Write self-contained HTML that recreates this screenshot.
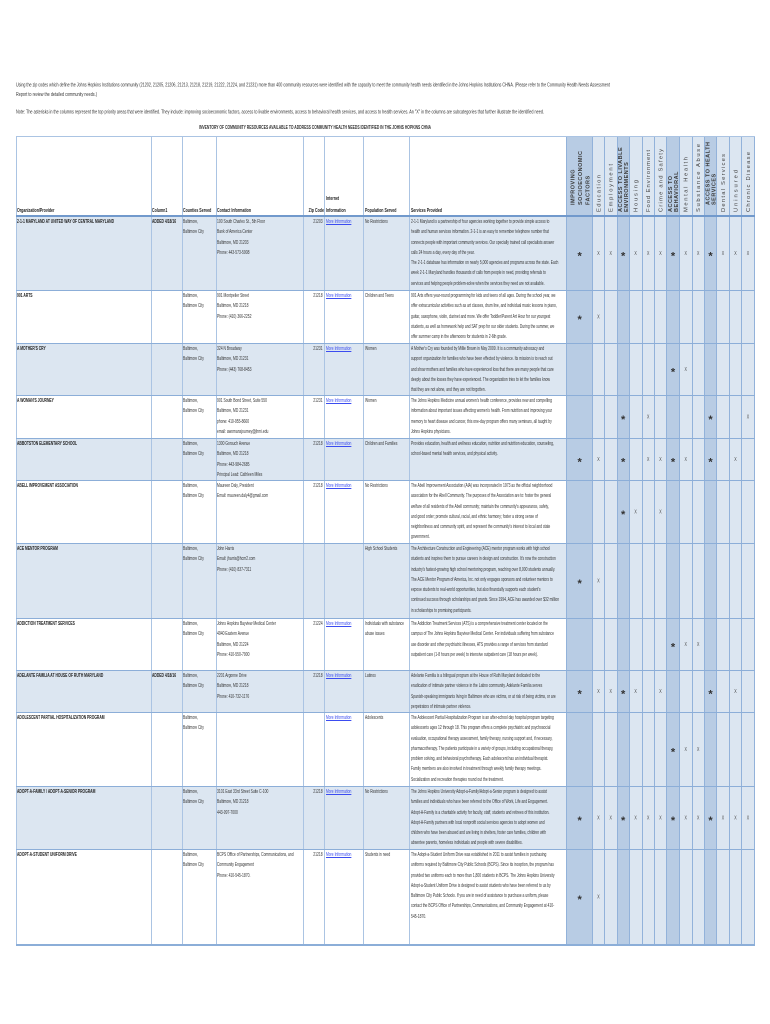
<!DOCTYPE html>
<html><head><meta charset="utf-8">
<style>
body{margin:0;background:#fff}
#p{position:relative;width:770px;height:1024px;overflow:hidden;background:#fff}
.t{position:absolute;white-space:nowrap;font:5.6px/10.3px "Liberation Sans",sans-serif;color:#333;transform:scaleX(.6);transform-origin:0 0}
.b{font-weight:bold;color:#222}
.hb{font-weight:bold;color:#222;transform:scaleX(.64)}
.z{transform-origin:100% 0;text-align:right}
.l{color:#3b4cf0;text-decoration:underline}
.bg{position:absolute}
.v{position:absolute;width:1px;top:136px;height:808px;background:#abc4e3}
.vr{position:absolute;width:1px;top:136px;height:808px;background:#92b2da}
.h{position:absolute;left:15.5px;width:739px;height:1px;background:#8caed8}
svg{position:absolute;left:0;top:0}
.s{font:bold 11px "Liberation Sans",sans-serif;fill:#333;text-anchor:middle}
.x{font:5.5px "Liberation Sans",sans-serif;fill:#444;text-anchor:middle}
.hd{font:5.8px "Liberation Sans",sans-serif;fill:#444}
.hs{font:bold 5.5px "Liberation Sans",sans-serif;fill:#3a3a3a;letter-spacing:.5px}
.in{font:5px "Liberation Sans",sans-serif;fill:#333}
</style></head><body><div id="p">

<!-- row bands -->
<div class="bg" style="left:15.5px;top:216px;width:551px;height:74px;background:#dce6f1"></div>
<div class="bg" style="left:15.5px;top:343px;width:551px;height:52px;background:#dce6f1"></div>
<div class="bg" style="left:15.5px;top:438px;width:551px;height:42px;background:#dce6f1"></div>
<div class="bg" style="left:15.5px;top:543px;width:551px;height:75px;background:#dce6f1"></div>
<div class="bg" style="left:15.5px;top:670px;width:551px;height:42px;background:#dce6f1"></div>
<div class="bg" style="left:15.5px;top:786px;width:551px;height:63px;background:#dce6f1"></div>

<!-- right columns backgrounds -->
<div class="bg" style="left:566.5px;top:136px;width:26px;height:808px;background:#b8cce4"></div>
<div class="bg" style="left:592.5px;top:136px;width:24.5px;height:808px;background:#dce6f1"></div>
<div class="bg" style="left:617px;top:136px;width:12.5px;height:808px;background:#b8cce4"></div>
<div class="bg" style="left:629.5px;top:136px;width:37px;height:808px;background:#dce6f1"></div>
<div class="bg" style="left:666.5px;top:136px;width:12.8px;height:808px;background:#b8cce4"></div>
<div class="bg" style="left:679.3px;top:136px;width:25px;height:808px;background:#dce6f1"></div>
<div class="bg" style="left:704.3px;top:136px;width:12.4px;height:808px;background:#b8cce4"></div>
<div class="bg" style="left:716.7px;top:136px;width:37.6px;height:808px;background:#dce6f1"></div>

<!-- vertical lines -->
<div class="v" style="left:15.5px"></div>
<div class="v" style="left:150.5px"></div>
<div class="v" style="left:181.5px"></div>
<div class="v" style="left:215.5px"></div>
<div class="v" style="left:303px"></div>
<div class="v" style="left:324px"></div>
<div class="v" style="left:363px"></div>
<div class="v" style="left:409px"></div>
<div class="vr" style="left:566.3px"></div>
<div class="vr" style="left:592.2px"></div>
<div class="vr" style="left:604px"></div>
<div class="vr" style="left:616.7px"></div>
<div class="vr" style="left:629.2px"></div>
<div class="vr" style="left:641.7px"></div>
<div class="vr" style="left:654px"></div>
<div class="vr" style="left:666.4px"></div>
<div class="vr" style="left:679px"></div>
<div class="vr" style="left:691.7px"></div>
<div class="vr" style="left:704px"></div>
<div class="vr" style="left:716.4px"></div>
<div class="vr" style="left:729px"></div>
<div class="vr" style="left:741.4px"></div>
<div class="vr" style="left:754px"></div>

<!-- horizontal lines -->
<div class="h" style="top:136px;background:#abc4e3"></div>
<div class="h" style="top:215px;height:2px;background:#7199cc"></div>
<div class="h" style="top:290px"></div>
<div class="h" style="top:343px"></div>
<div class="h" style="top:395px"></div>
<div class="h" style="top:438px"></div>
<div class="h" style="top:480px"></div>
<div class="h" style="top:543px"></div>
<div class="h" style="top:618px"></div>
<div class="h" style="top:670px"></div>
<div class="h" style="top:712px"></div>
<div class="h" style="top:786px"></div>
<div class="h" style="top:849px"></div>
<div class="h" style="top:944px;height:1.5px"></div>

<!-- left header labels -->
<div class="t hb" style="left:17px;top:205.6px">Organization/Provider</div>
<div class="t hb" style="left:152px;top:205.6px">Column1</div>
<div class="t hb" style="left:183px;top:205.6px">Counties Served</div>
<div class="t hb" style="left:217px;top:205.6px">Contact Information</div>
<div class="t hb z" style="right:446.5px;top:205.6px;transform:scaleX(.64)">Zip Code</div>
<div class="t hb" style="left:326px;top:194px">Internet</div>
<div class="t hb" style="left:326px;top:205.6px">Information</div>
<div class="t hb" style="left:365px;top:205.6px">Population Served</div>
<div class="t hb" style="left:411px;top:205.6px">Services Provided</div>

<!-- Row 1 -->
<div class="t b" style="left:17px;top:217px">2-1-1 MARYLAND AT UNITED WAY OF CENTRAL MARYLAND</div>
<div class="t b" style="left:152px;top:217px">ADDED 4/18/16</div>
<div class="t" style="left:183px;top:217px">Baltimore,<br>Baltimore City</div>
<div class="t" style="left:217px;top:217px">100 South Charles St., 5th Floor<br>Bank of America Center<br>Baltimore, MD 21203<br>Phone: 443-573-5908</div>
<div class="t z" style="right:447px;top:217px">21203</div>
<div class="t l" style="left:326px;top:217px">More Information</div>
<div class="t" style="left:365px;top:217px">No Restrictions</div>
<div class="t" style="left:411px;top:217px">2-1-1 Maryland is a partnership of four agencies working together to provide simple access to<br>health and human services information. 2-1-1 is an easy to remember telephone number that<br>connects people with important community services. Our specially trained call specialists answer<br>calls 24 hours a day, every day of the year.<br>The 2-1-1 database has information on nearly 5,000 agencies and programs across the state. Each<br>week 2-1-1 Maryland handles thousands of calls from people in need, providing referrals to<br>services and helping people problem-solve when the services they need are not available.</div>

<!-- Row 2 -->
<div class="t b" style="left:17px;top:291px">901 ARTS</div>
<div class="t" style="left:183px;top:291px">Baltimore,<br>Baltimore City</div>
<div class="t" style="left:217px;top:291px">901 Montpelier Street<br>Baltimore, MD 21218<br>Phone: (410) 366-2252</div>
<div class="t z" style="right:447px;top:291px">21218</div>
<div class="t l" style="left:326px;top:291px">More Information</div>
<div class="t" style="left:365px;top:291px">Children and Teens</div>
<div class="t" style="left:411px;top:291px">901 Arts offers year-round programming for kids and teens of all ages. During the school year, we<br>offer extracurricular activities such as art classes, drum line, and individual music lessons in piano,<br>guitar, saxophone, violin, clarinet and more. We offer Toddler/Parent Art Hour for our youngest<br>students, as well as homework help and SAT prep for our older students. During the summer, we<br>offer summer camp in the afternoons for students in 2-6th grade.</div>

<!-- Row 3 -->
<div class="t b" style="left:17px;top:344px">A MOTHER'S CRY</div>
<div class="t" style="left:183px;top:344px">Baltimore,<br>Baltimore City</div>
<div class="t" style="left:217px;top:344px">324 N Broadway<br>Baltimore, MD 21231<br>Phone: (443) 768-8453</div>
<div class="t z" style="right:447px;top:344px">21231</div>
<div class="t l" style="left:326px;top:344px">More Information</div>
<div class="t" style="left:365px;top:344px">Women</div>
<div class="t" style="left:411px;top:344px">A Mother's Cry was founded by Millie Brown in May 2009. It is a community advocacy and<br>support organization for families who have been effected by violence. Its mission is to reach out<br>and show mothers and families who have experienced loss that there are many people that care<br>deeply about the losses they have experienced. The organization tries to let the families know<br>that they are not alone, and they are not forgotten.</div>

<!-- Row 4 -->
<div class="t b" style="left:17px;top:396px">A WOMAN'S JOURNEY</div>
<div class="t" style="left:183px;top:396px">Baltimore,<br>Baltimore City</div>
<div class="t" style="left:217px;top:396px">901 South Bond Street, Suite 550<br>Baltimore, MD 21231<br>phone: 410-955-8660<br>email: awomansjourney@jhmi.edu</div>
<div class="t z" style="right:447px;top:396px">21231</div>
<div class="t l" style="left:326px;top:396px">More Information</div>
<div class="t" style="left:365px;top:396px">Women</div>
<div class="t" style="left:411px;top:396px">The Johns Hopkins Medicine annual women's health conference, provides new and compelling<br>information about important issues affecting women's health. From nutrition and improving your<br>memory to heart disease and cancer, this one-day program offers many seminars, all taught by<br>Johns Hopkins physicians.</div>

<!-- Row 5 -->
<div class="t b" style="left:17px;top:439px">ABBOTSTON ELEMENTARY SCHOOL</div>
<div class="t" style="left:183px;top:439px">Baltimore,<br>Baltimore City</div>
<div class="t" style="left:217px;top:439px">1300 Gorsuch Avenue<br>Baltimore, MD 21218<br>Phone: 443-984-2685<br>Principal Lead: Cathleen Miles</div>
<div class="t z" style="right:447px;top:439px">21218</div>
<div class="t l" style="left:326px;top:439px">More Information</div>
<div class="t" style="left:365px;top:439px">Children and Families</div>
<div class="t" style="left:411px;top:439px">Provides education, health and wellness education, nutrition and nutrition education, counseling,<br>school-based mental health services, and physical activity.</div>

<!-- Row 6 -->
<div class="t b" style="left:17px;top:481px">ABELL IMPROVEMENT ASSOCIATION</div>
<div class="t" style="left:183px;top:481px">Baltimore,<br>Baltimore City</div>
<div class="t" style="left:217px;top:481px">Maureen Daly, President<br>Email: maureen.daly4@gmail.com</div>
<div class="t z" style="right:447px;top:481px">21218</div>
<div class="t l" style="left:326px;top:481px">More Information</div>
<div class="t" style="left:365px;top:481px">No Restrictions</div>
<div class="t" style="left:411px;top:481px">The Abell Improvement Association (AIA) was incorporated in 1973 as the official neighborhood<br>association for the Abell Community. The purposes of the Association are to: foster the general<br>welfare of all residents of the Abell community; maintain the community's appearance, safety,<br>and good order; promote cultural, racial, and ethnic harmony; foster a strong sense of<br>neighborliness and community spirit, and represent the community's interest to local and state<br>government.</div>

<!-- Row 7 -->
<div class="t b" style="left:17px;top:544px">ACE MENTOR PROGRAM</div>
<div class="t" style="left:183px;top:544px">Baltimore,<br>Baltimore City</div>
<div class="t" style="left:217px;top:544px">John Harris<br>Email: jharris@hcm2.com<br>Phone: (410) 837-7311</div>
<div class="t" style="left:365px;top:544px">High School Students</div>
<div class="t" style="left:411px;top:544px">The Architecture Construction and Engineering (ACE) mentor program works with high school<br>students and inspires them to pursue careers in design and construction. It's now the construction<br>industry's fastest-growing high school mentoring program, reaching over 8,000 students annually.<br>The ACE Mentor Program of America, Inc. not only engages sponsors and volunteer mentors to<br>expose students to real-world opportunities, but also financially supports each student's<br>continued success through scholarships and grants. Since 1994, ACE has awarded over $32 million<br>in scholarships to promising participants.</div>

<!-- Row 8 -->
<div class="t b" style="left:17px;top:619px">ADDICTION TREATMENT SERVICES</div>
<div class="t" style="left:183px;top:619px">Baltimore,<br>Baltimore City</div>
<div class="t" style="left:217px;top:619px">Johns Hopkins Bayview Medical Center<br>4940 Eastern Avenue<br>Baltimore, MD 21224<br>Phone: 410-550-7900</div>
<div class="t z" style="right:447px;top:619px">21224</div>
<div class="t l" style="left:326px;top:619px">More Information</div>
<div class="t" style="left:365px;top:619px">Individuals with substance<br>abuse issues</div>
<div class="t" style="left:411px;top:619px">The Addiction Treatment Services (ATS) is a comprehensive treatment center located on the<br>campus of The Johns Hopkins Bayview Medical Center. For individuals suffering from substance<br>use disorder and other psychiatric illnesses, ATS provides a range of services from standard<br>outpatient care (1-8 hours per week) to intensive outpatient care (18 hours per week).</div>

<!-- Row 9 -->
<div class="t b" style="left:17px;top:671px">ADELANTE FAMILIA AT HOUSE OF RUTH MARYLAND</div>
<div class="t b" style="left:152px;top:671px">ADDED 4/18/16</div>
<div class="t" style="left:183px;top:671px">Baltimore,<br>Baltimore City</div>
<div class="t" style="left:217px;top:671px">2201 Argonne Drive<br>Baltimore, MD 21218<br>Phone: 410-732-1176</div>
<div class="t z" style="right:447px;top:671px">21218</div>
<div class="t l" style="left:326px;top:671px">More Information</div>
<div class="t" style="left:365px;top:671px">Latinos</div>
<div class="t" style="left:411px;top:671px">Adelante Familia is a bilingual program at the House of Ruth Maryland dedicated to the<br>eradication of intimate partner violence in the Latino community. Adelante Familia serves<br>Spanish-speaking immigrants living in Baltimore who are victims, or at risk of being victims, or are<br>perpetrators of intimate partner violence.</div>

<!-- Row 10 -->
<div class="t b" style="left:17px;top:713px">ADOLESCENT PARTIAL HOSPITALIZATION PROGRAM</div>
<div class="t" style="left:183px;top:713px">Baltimore,<br>Baltimore City</div>
<div class="t l" style="left:326px;top:713px">More Information</div>
<div class="t" style="left:365px;top:713px">Adolescents</div>
<div class="t" style="left:411px;top:713px">The Adolescent Partial Hospitalization Program is an after-school day hospital program targeting<br>adolescents ages 12 through 18. This program offers a complete psychiatric and psychosocial<br>evaluation, occupational therapy assessment, family therapy, nursing support and, if necessary,<br>pharmacotherapy. The patients participate in a variety of groups, including occupational therapy,<br>problem solving, and behavioral psychotherapy. Each adolescent has an individual therapist.<br>Family members are also involved in treatment through weekly family therapy meetings.<br>Socialization and recreation therapies round out the treatment.</div>

<!-- Row 11 -->
<div class="t b" style="left:17px;top:787px">ADOPT-A-FAMILY / ADOPT-A-SENIOR PROGRAM</div>
<div class="t" style="left:183px;top:787px">Baltimore,<br>Baltimore City</div>
<div class="t" style="left:217px;top:787px">3101 East 33rd Street Suite C-100<br>Baltimore, MD 21218<br>443-997-7000</div>
<div class="t z" style="right:447px;top:787px">21218</div>
<div class="t l" style="left:326px;top:787px">More Information</div>
<div class="t" style="left:365px;top:787px">No Restrictions</div>
<div class="t" style="left:411px;top:787px">The Johns Hopkins University Adopt-a-Family/Adopt-a-Senior program is designed to assist<br>families and individuals who have been referred to the Office of Work, Life and Engagement.<br>Adopt-A-Family is a charitable activity for faculty, staff, students and retirees of this institution.<br>Adopt-A-Family partners with local nonprofit social services agencies to adopt women and<br>children who have been abused and are living in shelters, foster care families, children with<br>absentee parents, homeless individuals and people with severe disabilities.</div>

<!-- Row 12 -->
<div class="t b" style="left:17px;top:850px">ADOPT-A-STUDENT UNIFORM DRIVE</div>
<div class="t" style="left:183px;top:850px">Baltimore,<br>Baltimore City</div>
<div class="t" style="left:217px;top:850px">BCPS Office of Partnerships, Communications, and<br>Community Engagement<br>Phone: 410-545-1870.</div>
<div class="t z" style="right:447px;top:850px">21218</div>
<div class="t l" style="left:326px;top:850px">More Information</div>
<div class="t" style="left:365px;top:850px">Students in need</div>
<div class="t" style="left:411px;top:850px">The Adopt-a-Student Uniform Drive was established in 2011 to assist families in purchasing<br>uniforms required by Baltimore City Public Schools (BCPS). Since its inception, the program has<br>provided two uniforms each to more than 1,800 students in BCPS. The Johns Hopkins University<br>Adopt-a-Student Uniform Drive is designed to assist students who have been referred to us by<br>Baltimore City Public Schools. If you are in need of assistance to purchase a uniform, please<br>contact the BCPS Office of Partnerships, Communications, and Community Engagement at 410-<br>545-1870.</div>

<svg width="770" height="1024" viewBox="0 0 770 1024">
<!-- intro text -->
<text class="in" x="16" y="86.6" textLength="594" lengthAdjust="spacingAndGlyphs">Using the zip codes which define the Johns Hopkins Institutions community (21202, 21205, 21206, 21213, 21218, 21219, 21222, 21224, and 21231) more than 400 community resources were identified with the capacity to meet the community health needs identified in the Johns Hopkins Institutions CHNA. (Please refer to the Community Health Needs Assessment</text>
<text class="in" x="16" y="96.2" textLength="81" lengthAdjust="spacingAndGlyphs">Report to review the detailed community needs.)</text>
<text class="in" x="16" y="113.6" textLength="528" lengthAdjust="spacingAndGlyphs">Note: The asterisks in the columns represent the top priority areas that were identified. They include: improving socioeconomic factors, access to livable environments, access to behavioral health services, and access to health services. An "X" in the columns are subcategories that further illustrate the identified need.</text>
<text class="in" x="199" y="129" textLength="232" lengthAdjust="spacingAndGlyphs" style="font-weight:bold">INVENTORY OF COMMUNITY RESOURCES AVAILABLE TO ADDRESS COMMUNITY HEALTH NEEDS IDENTIFIED IN THE JOHNS HOPKINS CHNA</text>

<!-- rotated headers: star columns -->
<text class="hs" transform="translate(574.7,205) rotate(-90)">IMPROVING</text>
<text class="hs" transform="translate(582,205) rotate(-90)">SOCIOECONOMIC</text>
<text class="hs" transform="translate(589.3,205) rotate(-90)">FACTORS</text>
<text class="hs" transform="translate(622,212) rotate(-90)">ACCESS TO LIVABLE</text>
<text class="hs" transform="translate(628,212) rotate(-90)">ENVIRONMENTS</text>
<text class="hs" transform="translate(672,212) rotate(-90)">ACCESS TO</text>
<text class="hs" transform="translate(678,212) rotate(-90)">BEHAVIORAL</text>
<text class="hs" transform="translate(709.5,205) rotate(-90)">ACCESS TO HEALTH</text>
<text class="hs" transform="translate(715.5,205) rotate(-90)">SERVICES</text>
<!-- rotated headers: sub columns -->
<text class="hd" transform="translate(600.3,212) rotate(-90)" textLength="37">Education</text>
<text class="hd" transform="translate(612.6,212) rotate(-90)" textLength="48">Employment</text>
<text class="hd" transform="translate(637.5,212) rotate(-90)" textLength="32">Housing</text>
<text class="hd" transform="translate(650.1,212) rotate(-90)" textLength="62">Food Environment</text>
<text class="hd" transform="translate(662.4,212) rotate(-90)" textLength="63">Crime and Safety</text>
<text class="hd" transform="translate(687.6,212) rotate(-90)" textLength="55">Mental Health</text>
<text class="hd" transform="translate(700.1,212) rotate(-90)" textLength="68">Substance Abuse</text>
<text class="hd" transform="translate(724.9,212) rotate(-90)" textLength="58">Dental Services</text>
<text class="hd" transform="translate(737.4,212) rotate(-90)" textLength="42">Uninsured</text>
<text class="hd" transform="translate(749.9,212) rotate(-90)" textLength="60">Chronic Disease</text>

<!-- Row 1 marks (all) -->
<text class="s" x="579.6" y="259.3">*</text>
<text class="x" x="598.4" y="255" textLength="2.4" lengthAdjust="spacingAndGlyphs">X</text>
<text class="x" x="610.7" y="255" textLength="2.4" lengthAdjust="spacingAndGlyphs">X</text>
<text class="s" x="623.2" y="259.3">*</text>
<text class="x" x="635.6" y="255" textLength="2.4" lengthAdjust="spacingAndGlyphs">X</text>
<text class="x" x="648.2" y="255" textLength="2.4" lengthAdjust="spacingAndGlyphs">X</text>
<text class="x" x="660.5" y="255" textLength="2.4" lengthAdjust="spacingAndGlyphs">X</text>
<text class="s" x="673" y="259.3">*</text>
<text class="x" x="685.7" y="255" textLength="2.4" lengthAdjust="spacingAndGlyphs">X</text>
<text class="x" x="698.2" y="255" textLength="2.4" lengthAdjust="spacingAndGlyphs">X</text>
<text class="s" x="710.5" y="259.3">*</text>
<text class="x" x="723" y="255" textLength="2.4" lengthAdjust="spacingAndGlyphs">X</text>
<text class="x" x="735.5" y="255" textLength="2.4" lengthAdjust="spacingAndGlyphs">X</text>
<text class="x" x="748" y="255" textLength="2.4" lengthAdjust="spacingAndGlyphs">X</text>

<!-- Row 2 -->
<text class="s" x="579.6" y="322.8">*</text>
<text class="x" x="598.4" y="318.5" textLength="2.4" lengthAdjust="spacingAndGlyphs">X</text>

<!-- Row 3 -->
<text class="s" x="673" y="375.3">*</text>
<text class="x" x="685.7" y="371" textLength="2.4" lengthAdjust="spacingAndGlyphs">X</text>

<!-- Row 4 -->
<text class="s" x="623.2" y="422.8">*</text>
<text class="x" x="648.2" y="418.5" textLength="2.4" lengthAdjust="spacingAndGlyphs">X</text>
<text class="s" x="710.5" y="422.8">*</text>
<text class="x" x="748" y="418.5" textLength="2.4" lengthAdjust="spacingAndGlyphs">X</text>

<!-- Row 5 -->
<text class="s" x="579.6" y="465.3">*</text>
<text class="x" x="598.4" y="461" textLength="2.4" lengthAdjust="spacingAndGlyphs">X</text>
<text class="s" x="623.2" y="465.3">*</text>
<text class="x" x="648.2" y="461" textLength="2.4" lengthAdjust="spacingAndGlyphs">X</text>
<text class="x" x="660.5" y="461" textLength="2.4" lengthAdjust="spacingAndGlyphs">X</text>
<text class="s" x="673" y="465.3">*</text>
<text class="x" x="685.7" y="461" textLength="2.4" lengthAdjust="spacingAndGlyphs">X</text>
<text class="s" x="710.5" y="465.3">*</text>
<text class="x" x="735.5" y="461" textLength="2.4" lengthAdjust="spacingAndGlyphs">X</text>

<!-- Row 6 -->
<text class="s" x="623.2" y="517.8">*</text>
<text class="x" x="635.6" y="513.5" textLength="2.4" lengthAdjust="spacingAndGlyphs">X</text>
<text class="x" x="660.5" y="513.5" textLength="2.4" lengthAdjust="spacingAndGlyphs">X</text>

<!-- Row 7 -->
<text class="s" x="579.6" y="586.8">*</text>
<text class="x" x="598.4" y="582.5" textLength="2.4" lengthAdjust="spacingAndGlyphs">X</text>

<!-- Row 8 -->
<text class="s" x="673" y="650.3">*</text>
<text class="x" x="685.7" y="646" textLength="2.4" lengthAdjust="spacingAndGlyphs">X</text>
<text class="x" x="698.2" y="646" textLength="2.4" lengthAdjust="spacingAndGlyphs">X</text>

<!-- Row 9 -->
<text class="s" x="579.6" y="697.3">*</text>
<text class="x" x="598.4" y="693" textLength="2.4" lengthAdjust="spacingAndGlyphs">X</text>
<text class="x" x="610.7" y="693" textLength="2.4" lengthAdjust="spacingAndGlyphs">X</text>
<text class="s" x="623.2" y="697.3">*</text>
<text class="x" x="635.6" y="693" textLength="2.4" lengthAdjust="spacingAndGlyphs">X</text>
<text class="x" x="660.5" y="693" textLength="2.4" lengthAdjust="spacingAndGlyphs">X</text>
<text class="s" x="710.5" y="697.3">*</text>
<text class="x" x="735.5" y="693" textLength="2.4" lengthAdjust="spacingAndGlyphs">X</text>

<!-- Row 10 -->
<text class="s" x="673" y="755.3">*</text>
<text class="x" x="685.7" y="751" textLength="2.4" lengthAdjust="spacingAndGlyphs">X</text>
<text class="x" x="698.2" y="751" textLength="2.4" lengthAdjust="spacingAndGlyphs">X</text>

<!-- Row 11 (all) -->
<text class="s" x="579.6" y="823.8">*</text>
<text class="x" x="598.4" y="819.5" textLength="2.4" lengthAdjust="spacingAndGlyphs">X</text>
<text class="x" x="610.7" y="819.5" textLength="2.4" lengthAdjust="spacingAndGlyphs">X</text>
<text class="s" x="623.2" y="823.8">*</text>
<text class="x" x="635.6" y="819.5" textLength="2.4" lengthAdjust="spacingAndGlyphs">X</text>
<text class="x" x="648.2" y="819.5" textLength="2.4" lengthAdjust="spacingAndGlyphs">X</text>
<text class="x" x="660.5" y="819.5" textLength="2.4" lengthAdjust="spacingAndGlyphs">X</text>
<text class="s" x="673" y="823.8">*</text>
<text class="x" x="685.7" y="819.5" textLength="2.4" lengthAdjust="spacingAndGlyphs">X</text>
<text class="x" x="698.2" y="819.5" textLength="2.4" lengthAdjust="spacingAndGlyphs">X</text>
<text class="s" x="710.5" y="823.8">*</text>
<text class="x" x="723" y="819.5" textLength="2.4" lengthAdjust="spacingAndGlyphs">X</text>
<text class="x" x="735.5" y="819.5" textLength="2.4" lengthAdjust="spacingAndGlyphs">X</text>
<text class="x" x="748" y="819.5" textLength="2.4" lengthAdjust="spacingAndGlyphs">X</text>

<!-- Row 12 -->
<text class="s" x="579.6" y="902.8">*</text>
<text class="x" x="598.4" y="898.5" textLength="2.4" lengthAdjust="spacingAndGlyphs">X</text>
</svg>

</div></body></html>
